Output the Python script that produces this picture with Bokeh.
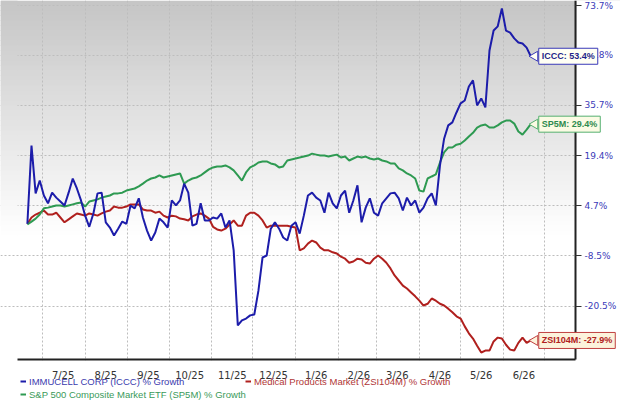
import math
import pandas as pd
from bokeh.plotting import figure
from bokeh.models import (Range1d, FixedTicker, CustomJSTickFormatter, DatetimeTickFormatter,
                          Label, Legend, LegendItem, BoxAnnotation)
from bokeh.embed import file_html
from bokeh.resources import INLINE

# ---------------- data ----------------
START_DATE = "2025-06-20"
STEP = "3D"
N_POINTS = 123
dates = pd.date_range(START_DATE, periods=N_POINTS, freq=STEP)

iccc_growth = [
    -0.2, 22.5, 8.2, 11.9, 7.6, 5.4, 8.4, 7.0, 5.9, 4.8,
    8.4, 12.5, 9.6, 6.2, 2.0, -1.0, 2.6, 8.2, 8.4, 0.2,
    -1.2, -3.3, -1.5, 0.4, -0.2, 4.8, 4.0, 6.8, 1.5, -2.0,
    -4.6, -2.5, 1.2, 0.2, -1.2, 6.2, 4.8, 6.2, 11.0, 8.4,
    -0.7, -0.2, 5.4, 0.7, 0.7, 1.5, 1.2, 2.6, -1.2, 0.7,
    -7.1, -24.7, -23.6, -23.2, -22.5, -22.3, -16.9, -8.9, -8.4, -1.5,
    0.2, -1.5, -3.8, -4.6, -0.7, 0.2, -2.8, 2.0, 7.6, 8.4,
    7.0, 6.2, 2.8, 8.4, 5.4, 4.0, 7.6, 9.0, 2.8, 6.2,
    10.5, 0.2, 4.2, 6.8, 2.8, 2.0, 5.4, 6.8, 8.2, 8.4,
    6.8, 3.4, 7.0, 4.8, 6.2, 2.8, 4.2, 6.8, 8.2, 4.8,
    16.4, 24.7, 29.0, 30.0, 33.3, 36.4, 37.4, 42.3, 44.5, 35.7,
    38.1, 35.0, 55.6, 63.4, 65.1, 72.4, 63.4, 62.6, 60.3, 58.7,
    58.3, 56.7, 53.4,
]

sp5m_growth = [
    -0.4, 0.4, 1.2, 2.3, 4.0, 4.2, 4.5, 4.8, 4.8, 4.5,
    4.8, 5.1, 5.4, 5.6, 4.5, 5.9, 6.2, 6.5, 7.0, 7.3,
    7.6, 8.2, 8.2, 8.4, 9.0, 9.3, 9.6, 10.2, 11.0, 11.9,
    12.5, 12.8, 13.4, 12.8, 13.1, 13.4, 13.7, 14.0, 11.0, 11.9,
    12.5, 12.8, 13.4, 14.3, 15.2, 15.8, 16.1, 16.1, 16.4, 15.8,
    14.9, 13.4, 11.9, 14.3, 15.8, 16.4, 17.3, 17.6, 17.6, 17.0,
    16.7, 15.8, 16.1, 17.9, 18.2, 18.5, 18.8, 19.1, 19.4, 20.0,
    19.7, 19.4, 19.4, 19.1, 19.4, 19.7, 18.8, 19.1, 17.9, 18.5,
    19.1, 18.8, 19.1, 18.5, 18.2, 18.5, 17.9, 17.6, 17.0, 17.0,
    15.5, 14.9, 14.0, 13.4, 12.5, 9.0, 8.7, 12.5, 13.1, 13.7,
    17.3, 20.4, 21.9, 21.9, 22.8, 23.1, 24.1, 25.4, 26.6, 28.3,
    29.0, 29.3, 28.3, 28.3, 29.0, 30.0, 30.6, 30.6, 29.6, 27.0,
    26.0, 27.6, 29.4,
]

zsi_growth = [
    -0.2, 1.5, 2.3, 2.8, 3.4, 2.3, 2.3, 2.8, 1.5, 0.2,
    1.0, 1.8, 2.6, 2.3, 2.0, 2.6, 2.3, 2.0, 2.6, 3.1,
    3.4, 4.5, 4.2, 4.2, 4.5, 5.1, 5.1, 5.1, 3.7, 3.4,
    3.4, 2.8, 3.1, 2.0, 1.5, 2.0, 1.8, 1.2, 1.0, 0.7,
    1.8, 2.3, 2.6, 2.0, 1.2, -1.0, -1.7, -2.0, -1.5, -0.4,
    0.7, -0.7, -0.7, 2.0, 2.8, 2.8, 2.0, 0.7, -1.2, -0.7,
    -0.7, -0.7, -0.7, -0.7, -1.0, -1.2, -7.1, -6.6, -5.4, -4.6,
    -5.1, -6.4, -7.1, -7.1, -7.6, -7.9, -8.7, -9.2, -10.2, -9.9,
    -9.2, -9.4, -10.2, -10.4, -9.2, -8.4, -9.2, -10.2, -11.6, -13.3,
    -14.5, -15.7, -16.4, -17.3, -18.2, -19.2, -20.3, -19.9, -18.7, -19.2,
    -19.9, -20.3, -21.0, -21.8, -22.7, -23.2, -24.9, -26.4, -27.5, -29.0,
    -30.4, -30.0, -30.0, -28.1, -27.3, -27.5, -28.8, -29.8, -30.0, -28.4,
    -27.3, -28.4, -27.9,
]

y_tick_values = [-20.5, -8.5, 4.7, 19.4, 35.7, 53.8, 73.7]
month_starts = pd.date_range("2025-07-01", "2026-07-01", freq="MS")
month_label_dates = month_starts[:-1] + pd.Timedelta(days=15)

series_names = ["IMMUCELL CORP (ICCC) % Growth",
                "Medical Products Market (ZSI104M) % Growth",
                "S&P 500 Composite Market ETF (SP5M) % Growth"]

# ---------------- layout helpers (pixel <-> data for styling) ----------------
W, H = 620, 402
OFFSET = 128.8                    # growth axis is logarithmic in (value + OFFSET)
PX_PER_DAY = 502 / 365.0
ANCHOR, ANCHOR_PX = pd.Timestamp("2025-07-01"), 42
LN_TOP, PX_PER_LN = math.log(204.6), 480.9
FRAME_LEFT_PX, AXIS_X_PX, AXIS_Y_PX = 17, 575, 359


def ms(ts):
    return pd.Timestamp(ts).timestamp() * 1000.0


def px_to_x(px):
    return ms(ANCHOR + pd.Timedelta(days=(px - ANCHOR_PX) / PX_PER_DAY))


def px_to_y(py):
    return math.exp(LN_TOP - py / PX_PER_LN)


def sh(vals):
    return [v + OFFSET for v in vals]


BLUE = "#1c1caa"
RED = "#b0201e"
GREEN = "#2e9a52"

p = figure(width=W, height=H, x_axis_type="datetime", y_axis_type="log",
           y_axis_location="right", output_backend="svg", toolbar_location=None,
           x_range=Range1d(px_to_x(0), px_to_x(W)),
           y_range=Range1d(px_to_y(H), px_to_y(0)),
           min_border_left=0, min_border_right=0, min_border_top=0, min_border_bottom=0)
p.background_fill_color = "white"
p.border_fill_color = "white"
p.outline_line_color = None

# gradient background (grey at top fading to white)
band = 5
for i in range(0, 245 // band):
    top_px = i * band
    g = int(round(197 + 58 * min(1.0, (top_px + band / 2) / 235.0)))
    kw = dict(top=px_to_y(top_px), bottom=px_to_y(top_px + band + 0.5),
              fill_color=(g, g, g), fill_alpha=1.0, line_alpha=0)
    p.add_layout(BoxAnnotation(level="image", **kw))

# axes and grids
yt = FixedTicker(ticks=sh(y_tick_values))
p.yaxis.ticker = yt
p.ygrid.ticker = yt
p.yaxis.formatter = CustomJSTickFormatter(args=dict(off=OFFSET),
                                          code="return (tick - off).toFixed(1) + '%';")
p.yaxis.fixed_location = px_to_x(AXIS_X_PX)
p.yaxis.bounds = (px_to_y(AXIS_Y_PX), px_to_y(0))
p.yaxis.axis_line_width = 2
p.yaxis.axis_line_color = "#222222"
p.yaxis.major_tick_out = 6
p.yaxis.major_tick_in = 0
p.yaxis.major_tick_line_color = "#333333"
p.yaxis.minor_tick_line_color = None
p.yaxis.major_label_standoff = 3
p.yaxis.major_label_text_font = "DejaVu Sans"
p.yaxis.major_label_text_font_size = "9px"
p.yaxis.major_label_text_color = "#3a3ab8"

p.xaxis.ticker = FixedTicker(ticks=[ms(d) for d in month_label_dates])
p.xgrid.ticker = FixedTicker(ticks=[ms(d) for d in month_starts])
fmt = "%-m/%y"
p.xaxis.formatter = DatetimeTickFormatter(microseconds=fmt, milliseconds=fmt, seconds=fmt,
                                          minsec=fmt, minutes=fmt, hourmin=fmt, hours=fmt,
                                          days=fmt, months=fmt, years=fmt)
p.xaxis.fixed_location = px_to_y(AXIS_Y_PX)
p.xaxis.bounds = (px_to_x(FRAME_LEFT_PX), px_to_x(AXIS_X_PX))
p.xaxis.axis_line_width = 2
p.xaxis.axis_line_color = "#222222"
p.xaxis.major_tick_line_color = None
p.xaxis.minor_tick_line_color = None
p.xaxis.major_label_standoff = 4
p.xaxis.major_label_text_font = "DejaVu Sans"
p.xaxis.major_label_text_font_size = "10px"
p.xaxis.major_label_text_color = "#333333"

for grid in (p.xgrid, p.ygrid):
    grid.grid_line_color = "#bdbdbd"
    grid.grid_line_dash = "2 2"
    grid.grid_line_width = 1
    grid.level = "underlay"

# masks drawn over the grid: left strip keeps the gradient, right/bottom margins white
for i in range(0, 245 // band):
    top_px = i * band
    g = int(round(197 + 58 * min(1.0, (top_px + band / 2) / 235.0)))
    p.add_layout(BoxAnnotation(level="underlay", right=px_to_x(FRAME_LEFT_PX),
                               top=px_to_y(top_px), bottom=px_to_y(top_px + band + 0.5),
                               fill_color=(g, g, g), fill_alpha=1.0, line_alpha=0))
p.add_layout(BoxAnnotation(level="underlay", left=px_to_x(AXIS_X_PX + 1),
                           fill_color="white", fill_alpha=1.0, line_alpha=0))
p.add_layout(BoxAnnotation(level="underlay", top=px_to_y(AXIS_Y_PX + 1),
                           fill_color="white", fill_alpha=1.0, line_alpha=0))

# lines
r_zsi = p.line(dates, sh(zsi_growth), line_width=2, color=RED)
r_sp = p.line(dates, sh(sp5m_growth), line_width=2, color=GREEN)
r_iccc = p.line(dates, sh(iccc_growth), line_width=2, color=BLUE)

# end-of-line callouts
last = dates[-1]
callouts = [
    (iccc_growth[-1], "ICCC: %.1f%%" % iccc_growth[-1], "#3a3ab8", "#fffff4", "#1f1f88"),
    (sp5m_growth[-1], "SP5M: %.1f%%" % sp5m_growth[-1], "#55b070", "#fbfbe4", "#2e8a4e"),
    (zsi_growth[-1], "ZSI104M: %.1f%%" % zsi_growth[-1], "#c04040", "#fcf3dc", "#b02020"),
]
for val, txt, border, fill, tcol in callouts:
    p.scatter([last + pd.Timedelta(days=3)], [val + OFFSET], marker="triangle",
              angle=math.pi / 2, size=10, fill_color=fill, line_color=border, line_width=1)
    p.add_layout(Label(x=ms(last), y=val + OFFSET, x_offset=8, text=txt,
                       text_baseline="middle", text_align="left",
                       text_font="Liberation Sans", text_font_size="9px", text_font_style="bold",
                       text_color=tcol, background_fill_color=fill, border_line_color=border,
                       border_line_width=1, padding=3))

# legend (three single-item legends so each keeps its own text colour)
legend_specs = [
    (series_names[0], r_iccc, "#3b3bae", (20, 15)),
    (series_names[1], r_zsi, "#b03636", (245, 15)),
    (series_names[2], r_sp, "#3a9a5a", (20, 2)),
]
for name, rend, tcol, loc in legend_specs:
    leg = Legend(items=[LegendItem(label=name, renderers=[rend])], location=loc,
                 padding=0, margin=0, spacing=0, glyph_width=6, glyph_height=12,
                 label_height=12, label_standoff=3, label_text_font="Liberation Sans",
                 label_text_font_size="9.5px", label_text_color=tcol,
                 background_fill_alpha=0, border_line_alpha=0)
    p.add_layout(leg)

open("out.html", "w").write(file_html(p, INLINE))
